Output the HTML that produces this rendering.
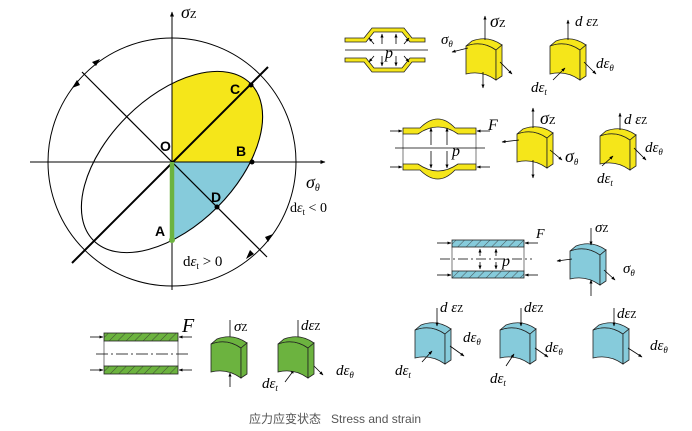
<!DOCTYPE html>
<html><head><meta charset="utf-8"><style>
html,body{margin:0;padding:0;background:#fff;width:692px;height:431px;overflow:hidden}
svg{display:block}
text{font-family:"Liberation Serif",serif;font-style:italic}
.n{font-style:normal}
.b{font-family:"Liberation Sans",sans-serif;font-weight:bold;font-style:normal;font-size:14px}
</style></head><body>
<svg width="692" height="431" viewBox="0 0 692 431" xmlns="http://www.w3.org/2000/svg">
<defs>
<marker id="ah" viewBox="0 0 10 10" refX="9" refY="5" markerWidth="5" markerHeight="5" orient="auto"><path d="M0,1 L10,5 L0,9 Z" fill="#000"/></marker>
<clipPath id="q1"><rect x="172" y="0" width="200" height="162"/></clipPath>
<clipPath id="q4"><rect x="172" y="162" width="200" height="200"/></clipPath>
<pattern id="hatch" width="6" height="6" patternUnits="userSpaceOnUse" patternTransform="rotate(45)"><line x1="0" y1="0" x2="0" y2="6" stroke="#333" stroke-width="0.8"/></pattern>
<g id="blk">
<path d="M0,8 Q16,2 30,12 L30,42 Q16,32 0,36 Z" stroke="#222" stroke-width="0.8"/>
<path d="M0,8 L6,3 Q22,-3 36,7 L30,12 Q16,2 0,8 Z" stroke="#222" stroke-width="0.8"/>
<path d="M30,12 L36,7 L36,38 L30,42 Z" stroke="#222" stroke-width="0.8"/>
</g>
</defs>

<!-- left diagram -->
<g clip-path="url(#q1)"><ellipse cx="172" cy="162" rx="111" ry="64" transform="rotate(-45 172 162)" fill="#f5e61a"/></g>
<g clip-path="url(#q4)"><ellipse cx="172" cy="162" rx="111" ry="64" transform="rotate(-45 172 162)" fill="#86cbdb"/></g>
<ellipse cx="172" cy="162" rx="111" ry="64" transform="rotate(-45 172 162)" fill="none" stroke="#000" stroke-width="1.1"/>
<circle cx="172" cy="162" r="124" fill="none" stroke="#000" stroke-width="1"/>
<line x1="30" y1="162" x2="325" y2="162" stroke="#000" stroke-width="1" marker-end="url(#ah)"/>
<line x1="172" y1="290" x2="172" y2="12" stroke="#000" stroke-width="1" marker-end="url(#ah)"/>
<line x1="72" y1="263" x2="268" y2="67" stroke="#000" stroke-width="2"/>
<line x1="82" y1="72" x2="267" y2="257" stroke="#000" stroke-width="1.2"/>
<line x1="172" y1="162" x2="172" y2="240" stroke="#6cb33f" stroke-width="4.5"/>
<circle cx="172" cy="240" r="3" fill="#6cb33f"/>
<circle cx="251" cy="85" r="2.5"/><circle cx="252" cy="162" r="2.5"/><circle cx="217" cy="207" r="2.5"/>
<path d="M100,59 L92,62 L96,66 Z M72,88 L77,80 L80,85 Z M273,234 L268,242 L265,237 Z M246,259 L254,254 L250,250 Z" fill="#000"/>
<text x="181" y="18" font-size="18">σ<tspan font-size="11" class="n">Z</tspan></text>
<text x="306" y="188" font-size="18">σ<tspan font-size="10" dy="3">θ</tspan></text>
<text class="b" x="160" y="151">O</text><text class="b" x="230" y="94">C</text>
<text class="b" x="236" y="156">B</text><text class="b" x="211" y="202">D</text><text class="b" x="155" y="236">A</text>
<text x="290" y="212" font-size="14" class="n">d<tspan style="font-style:italic">ε</tspan><tspan font-size="9" dy="3">t</tspan><tspan dy="-3"> &lt; 0</tspan></text>
<text x="183" y="266" font-size="15" class="n">d<tspan style="font-style:italic">ε</tspan><tspan font-size="9" dy="3">t</tspan><tspan dy="-3"> &gt; 0</tspan></text>

<!-- top yellow tube -->
<g stroke="#222" stroke-width="0.8">
<path d="M345,38 L364,38 L372,28 L404,28 L412,38 L425,38 L425,42 L410,42 L402,32 L374,32 L366,42 L345,42 Z" fill="#f5e61a"/>
<path d="M345,62 L364,62 L372,72 L404,72 L412,62 L425,62 L425,58 L410,58 L402,68 L374,68 L366,58 L345,58 Z" fill="#f5e61a"/>
</g>
<line x1="345" y1="50" x2="428" y2="50" stroke="#000" stroke-width="0.8"/>
<g stroke="#000" stroke-width="0.8" marker-end="url(#ah)">
<line x1="382" y1="44" x2="382" y2="34"/><line x1="396" y1="44" x2="396" y2="34"/><line x1="374" y1="44" x2="369" y2="38"/><line x1="404" y1="44" x2="409" y2="38"/>
<line x1="382" y1="56" x2="382" y2="66"/><line x1="396" y1="56" x2="396" y2="66"/><line x1="374" y1="56" x2="369" y2="62"/><line x1="404" y1="56" x2="409" y2="62"/>
</g>
<text x="385" y="58" font-size="16">p</text>

<use href="#blk" x="466" y="38" fill="#f5e61a"/>
<use href="#blk" x="550" y="38" fill="#f5e61a"/>
<g stroke="#000" stroke-width="0.8" marker-end="url(#ah)">
<line x1="485" y1="40" x2="485" y2="16"/><line x1="483" y1="72" x2="483" y2="88"/><line x1="468" y1="48" x2="452" y2="52"/><line x1="500" y1="62" x2="512" y2="74"/>
<line x1="568" y1="40" x2="568" y2="20"/><line x1="584" y1="62" x2="596" y2="74"/><line x1="553" y1="80" x2="565" y2="68"/>
</g>
<text x="490" y="27" font-size="18">σ<tspan font-size="11" class="n">Z</tspan></text>
<text x="441" y="44" font-size="15">σ<tspan font-size="9" dy="3">θ</tspan></text>
<text x="575" y="26" font-size="15">d ε<tspan font-size="10" class="n">Z</tspan></text>
<text x="596" y="68" font-size="15">dε<tspan font-size="9" dy="3">θ</tspan></text>
<text x="531" y="92" font-size="15">dε<tspan font-size="9" dy="3">t</tspan></text>

<!-- second yellow tube -->
<g stroke="#222" stroke-width="0.8" fill="#f5e61a">
<path d="M403,128 L420,128 Q438,110 455,128 L476,128 L476,134 L458,134 Q438,120 418,134 L403,134 Z"/>
<path d="M403,170 L420,170 Q438,188 455,170 L476,170 L476,164 L458,164 Q438,178 418,164 L403,164 Z"/>
</g>
<line x1="403" y1="134" x2="403" y2="164" stroke="#222" stroke-width="0.6"/><line x1="476" y1="134" x2="476" y2="164" stroke="#222" stroke-width="0.6"/>
<line x1="395" y1="148" x2="485" y2="148" stroke="#000" stroke-width="0.8"/>
<g stroke="#000" stroke-width="0.8" marker-end="url(#ah)">
<line x1="390" y1="131" x2="402" y2="131"/><line x1="390" y1="167" x2="402" y2="167"/><line x1="490" y1="131" x2="477" y2="131"/><line x1="490" y1="167" x2="477" y2="167"/>
<line x1="431" y1="145" x2="431" y2="128"/><line x1="447" y1="145" x2="447" y2="128"/><line x1="431" y1="151" x2="431" y2="168"/><line x1="447" y1="151" x2="447" y2="168"/>
</g>
<text x="452" y="156" font-size="16">p</text><text x="488" y="130" font-size="16">F</text>
<use href="#blk" x="517" y="126" fill="#f5e61a"/>
<use href="#blk" x="600" y="128" fill="#f5e61a"/>
<g stroke="#000" stroke-width="0.8" marker-end="url(#ah)">
<line x1="533" y1="128" x2="533" y2="108"/><line x1="533" y1="160" x2="533" y2="178"/><line x1="519" y1="140" x2="502" y2="142"/><line x1="550" y1="150" x2="562" y2="160"/>
<line x1="620" y1="130" x2="620" y2="113"/><line x1="634" y1="148" x2="646" y2="160"/><line x1="602" y1="166" x2="613" y2="156"/>
</g>
<text x="540" y="124" font-size="18">σ<tspan font-size="11" class="n">Z</tspan></text>
<text x="565" y="162" font-size="18">σ<tspan font-size="9" dy="3">θ</tspan></text>
<text x="624" y="124" font-size="15">d ε<tspan font-size="10" class="n">Z</tspan></text>
<text x="645" y="152" font-size="15">dε<tspan font-size="9" dy="3">θ</tspan></text>
<text x="597" y="183" font-size="15">dε<tspan font-size="9" dy="3">t</tspan></text>

<!-- blue tube -->
<rect x="452" y="240" width="72" height="7" fill="#86cbdb" stroke="#222" stroke-width="0.8"/>
<rect x="452" y="240" width="72" height="7" fill="url(#hatch)"/>
<rect x="452" y="271" width="72" height="7" fill="#86cbdb" stroke="#222" stroke-width="0.8"/>
<rect x="452" y="271" width="72" height="7" fill="url(#hatch)"/>
<line x1="452" y1="247" x2="452" y2="271" stroke="#222" stroke-width="0.6"/><line x1="524" y1="247" x2="524" y2="271" stroke="#222" stroke-width="0.6"/>
<line x1="440" y1="259" x2="532" y2="259" stroke="#000" stroke-width="0.7" stroke-dasharray="10,3,2,3"/>
<g stroke="#000" stroke-width="0.8" marker-end="url(#ah)">
<line x1="437" y1="243" x2="451" y2="243"/><line x1="437" y1="275" x2="451" y2="275"/><line x1="538" y1="243" x2="525" y2="243"/><line x1="538" y1="275" x2="525" y2="275"/>
<line x1="480" y1="256" x2="480" y2="249"/><line x1="480" y1="262" x2="480" y2="269"/><line x1="496" y1="256" x2="496" y2="249"/><line x1="496" y1="262" x2="496" y2="269"/>
</g>
<text x="502" y="266" font-size="16">p</text><text x="536" y="238" font-size="14">F</text>
<use href="#blk" x="570" y="243" fill="#86cbdb"/>
<g stroke="#000" stroke-width="0.8" marker-end="url(#ah)">
<line x1="591" y1="228" x2="591" y2="245"/><line x1="591" y1="296" x2="591" y2="280"/><line x1="572" y1="259" x2="557" y2="261"/><line x1="604" y1="270" x2="615" y2="280"/>
</g>
<text x="595" y="232" font-size="15">σ<tspan font-size="10" class="n">Z</tspan></text>
<text x="623" y="273" font-size="15">σ<tspan font-size="9" dy="3">θ</tspan></text>

<!-- blue blocks -->
<use href="#blk" x="415" y="322" fill="#86cbdb"/>
<use href="#blk" x="500" y="322" fill="#86cbdb"/>
<use href="#blk" x="593" y="322" fill="#86cbdb"/>
<g stroke="#000" stroke-width="0.8" marker-end="url(#ah)">
<line x1="437" y1="308" x2="437" y2="326"/><line x1="521" y1="308" x2="521" y2="326"/><line x1="614" y1="308" x2="614" y2="326"/>
<line x1="450" y1="346" x2="464" y2="356"/><line x1="535" y1="348" x2="548" y2="357"/><line x1="628" y1="348" x2="642" y2="357"/>
<line x1="422" y1="362" x2="432" y2="351"/><line x1="506" y1="366" x2="514" y2="354"/>
</g>
<text x="440" y="312" font-size="15">d ε<tspan font-size="10" class="n">Z</tspan></text>
<text x="463" y="342" font-size="15">dε<tspan font-size="9" dy="3">θ</tspan></text>
<text x="395" y="375" font-size="15">dε<tspan font-size="9" dy="3">t</tspan></text>
<text x="524" y="312" font-size="15">dε<tspan font-size="10" class="n">Z</tspan></text>
<text x="545" y="352" font-size="15">dε<tspan font-size="9" dy="3">θ</tspan></text>
<text x="490" y="383" font-size="15">dε<tspan font-size="9" dy="3">t</tspan></text>
<text x="617" y="318" font-size="15">dε<tspan font-size="10" class="n">Z</tspan></text>
<text x="650" y="350" font-size="15">dε<tspan font-size="9" dy="3">θ</tspan></text>

<!-- green tube -->
<rect x="104" y="333" width="74" height="8" fill="#6cb33f" stroke="#222" stroke-width="0.8"/>
<rect x="104" y="333" width="74" height="8" fill="url(#hatch)"/>
<rect x="104" y="366" width="74" height="8" fill="#6cb33f" stroke="#222" stroke-width="0.8"/>
<rect x="104" y="366" width="74" height="8" fill="url(#hatch)"/>
<line x1="104" y1="341" x2="104" y2="366" stroke="#222" stroke-width="0.6"/><line x1="178" y1="341" x2="178" y2="366" stroke="#222" stroke-width="0.6"/>
<line x1="96" y1="354" x2="190" y2="354" stroke="#000" stroke-width="0.7" stroke-dasharray="12,3,2,3"/>
<g stroke="#000" stroke-width="0.8" marker-end="url(#ah)">
<line x1="90" y1="337" x2="103" y2="337"/><line x1="90" y1="370" x2="103" y2="370"/><line x1="192" y1="337" x2="179" y2="337"/><line x1="192" y1="370" x2="179" y2="370"/>
<line x1="230" y1="320" x2="230" y2="340"/><line x1="230" y1="387" x2="230" y2="373"/>
<line x1="298" y1="320" x2="298" y2="340"/><line x1="312" y1="364" x2="323" y2="375"/><line x1="285" y1="382" x2="294" y2="370"/>
</g>
<text x="182" y="332" font-size="20">F</text>
<use href="#blk" x="211" y="336" fill="#6cb33f"/>
<use href="#blk" x="278" y="336" fill="#6cb33f"/>
<text x="234" y="331" font-size="15">σ<tspan font-size="10" class="n">Z</tspan></text>
<text x="301" y="330" font-size="15">dε<tspan font-size="10" class="n">Z</tspan></text>
<text x="336" y="375" font-size="15">dε<tspan font-size="9" dy="3">θ</tspan></text>
<text x="262" y="388" font-size="15">dε<tspan font-size="9" dy="3">t</tspan></text>

<text x="249" y="423" font-size="12" fill="#555" style="font-style:normal;font-family:'Liberation Sans','Noto Sans CJK SC',sans-serif">应力应变状态<tspan dx="10">Stress and strain</tspan></text>
</svg>
</body></html>
